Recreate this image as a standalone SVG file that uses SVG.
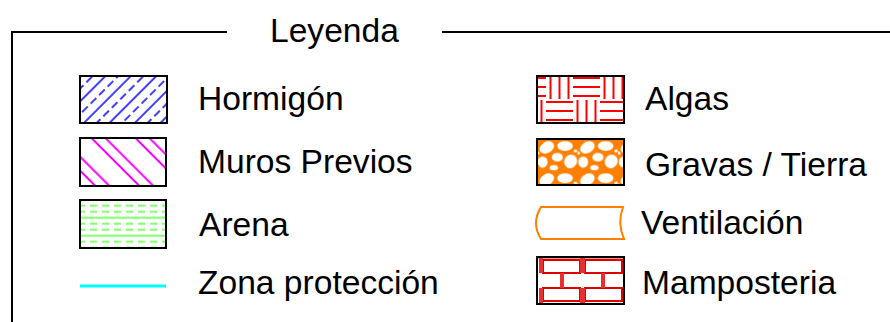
<svg xmlns="http://www.w3.org/2000/svg" width="890" height="322" viewBox="0 0 890 322">
<style>
.lbl{font-family:"Liberation Sans",Arial,sans-serif;font-size:33.6px;fill:#000}
.box{stroke:#000;stroke-width:2;}
.frame{stroke:#000;stroke-width:2;fill:none}
</style>
<defs>
<pattern id="pHorm" patternUnits="userSpaceOnUse" width="48" height="18" patternTransform="translate(80 76) rotate(-45)">
<line x1="0" y1="0" x2="48" y2="0" stroke="#0000ff" stroke-width="1.4"/>
<line x1="0" y1="18" x2="48" y2="18" stroke="#0000ff" stroke-width="1.4"/>
<line x1="0" y1="9" x2="48" y2="9" stroke="#0000ff" stroke-width="1.4" stroke-dasharray="8 4"/>
</pattern>
<pattern id="pMuros" patternUnits="userSpaceOnUse" width="31.1" height="40" patternTransform="translate(90 138) rotate(-45)">
<line x1="1" y1="0" x2="1" y2="40" stroke="#ff00ff" stroke-width="2"/>
<line x1="10.9" y1="0" x2="10.9" y2="40" stroke="#ff00ff" stroke-width="2"/>
</pattern>
<pattern id="pArena" patternUnits="userSpaceOnUse" width="12" height="18" patternTransform="translate(78 205.7)">
<line x1="0" y1="0" x2="7" y2="0" stroke="#88ff77" stroke-width="2.2"/>
<line x1="0" y1="18" x2="7" y2="18" stroke="#88ff77" stroke-width="2.2"/>
<line x1="0" y1="6" x2="7" y2="6" stroke="#88ff77" stroke-width="2.2"/>
<line x1="0" y1="12" x2="12" y2="12" stroke="#88ff77" stroke-width="2.2"/>
</pattern>
<pattern id="pAlgas" patternUnits="userSpaceOnUse" width="54" height="48" patternTransform="translate(519 76)">
<g stroke="#ff0000" stroke-width="2">
<line x1="0" y1="2" x2="27" y2="2"/><line x1="0" y1="11" x2="27" y2="11"/><line x1="0" y1="20" x2="27" y2="20"/>
<line x1="31.5" y1="0" x2="31.5" y2="23"/><line x1="40.5" y1="0" x2="40.5" y2="23"/><line x1="49.5" y1="0" x2="49.5" y2="23"/>
<line x1="4.5" y1="24" x2="4.5" y2="47"/><line x1="13.5" y1="24" x2="13.5" y2="47"/><line x1="22.5" y1="24" x2="22.5" y2="47"/>
<line x1="27" y1="26" x2="54" y2="26"/><line x1="27" y1="35" x2="54" y2="35"/><line x1="27" y1="44" x2="54" y2="44"/>
</g>
</pattern>
<pattern id="pGravas" patternUnits="userSpaceOnUse" width="29" height="23" patternTransform="translate(537 139) scale(1.4)">
<rect width="29" height="23" fill="#ff8000"/>
<g fill="#fff">
<ellipse cx="7" cy="6" rx="5.5" ry="4" transform="rotate(-30 7 6)"/>
<ellipse cx="20" cy="5" rx="5.5" ry="3.5"/>
<ellipse cx="14.5" cy="13" rx="4" ry="3"/>
<ellipse cx="4" cy="16.5" rx="3.5" ry="4"/>
<ellipse cx="24" cy="16" rx="4.5" ry="5" transform="rotate(30 24 16)"/>
<ellipse cx="12" cy="20.5" rx="3" ry="1.8"/>
<circle cx="27.5" cy="8.5" r="1.2"/>
<circle cx="0.5" cy="10" r="1.2"/>
</g>
</pattern>
</defs>

<g id="frame">
<path class="frame" d="M12 322 V32 H227"/>
<path class="frame" d="M442 32 H890"/>
<text class="lbl" x="270" y="42" font-size="34.5">Leyenda</text>
</g>

<g id="hormigon">
<rect class="box" x="80" y="76" width="87" height="47" fill="url(#pHorm)"/>
<text class="lbl" x="198" y="110">Hormigón</text>
</g>
<g id="muros">
<rect class="box" x="80" y="138" width="86" height="48" fill="url(#pMuros)"/>
<text class="lbl" x="198" y="173">Muros Previos</text>
</g>
<g id="arena">
<rect class="box" x="80" y="200" width="86" height="48" fill="url(#pArena)"/>
<text class="lbl" x="199" y="236">Arena</text>
</g>
<g id="zona">
<line x1="80" y1="286" x2="166" y2="286" stroke="#00ffff" stroke-width="3"/>
<text class="lbl" x="198" y="294">Zona protección</text>
</g>

<g id="algas">
<rect class="box" x="537" y="76" width="87" height="47" fill="url(#pAlgas)"/>
<text class="lbl" x="645" y="110">Algas</text>
</g>
<g id="gravas">
<rect class="box" x="537" y="139" width="87" height="46" fill="url(#pGravas)"/>
<text class="lbl" x="645" y="176">Gravas / Tierra</text>
</g>
<g id="ventilacion">
<path d="M541 207 H623 Q617 223 624 239 H541 Q531 223 541 207 Z" fill="#fff" stroke="#ff8000" stroke-width="2"/>
<text class="lbl" x="641" y="234">Ventilación</text>
</g>
<g id="mamposteria">
<rect x="537" y="257" width="87" height="47" fill="#fff"/>
<g stroke="#e00000" stroke-width="2" fill="none">
<rect x="543" y="260" width="37" height="13"/>
<rect x="585" y="260" width="37" height="13"/>
<rect x="543" y="288" width="37" height="13"/>
<rect x="585" y="288" width="37" height="13"/>
</g>
<g fill="#e83030">
<rect x="539" y="258" width="4" height="15"/>
<rect x="580" y="258" width="5" height="15"/>
<rect x="560" y="273" width="4" height="15"/>
<rect x="601" y="273" width="4" height="15"/>
<rect x="539" y="288" width="4" height="15"/>
<rect x="580" y="288" width="5" height="15"/>
<rect x="538" y="257" width="86" height="1.5"/>
</g>
<rect class="box" x="537" y="257" width="87" height="47" fill="none"/>
<text class="lbl" x="642" y="294">Mamposteria</text>
</g>
</svg>
